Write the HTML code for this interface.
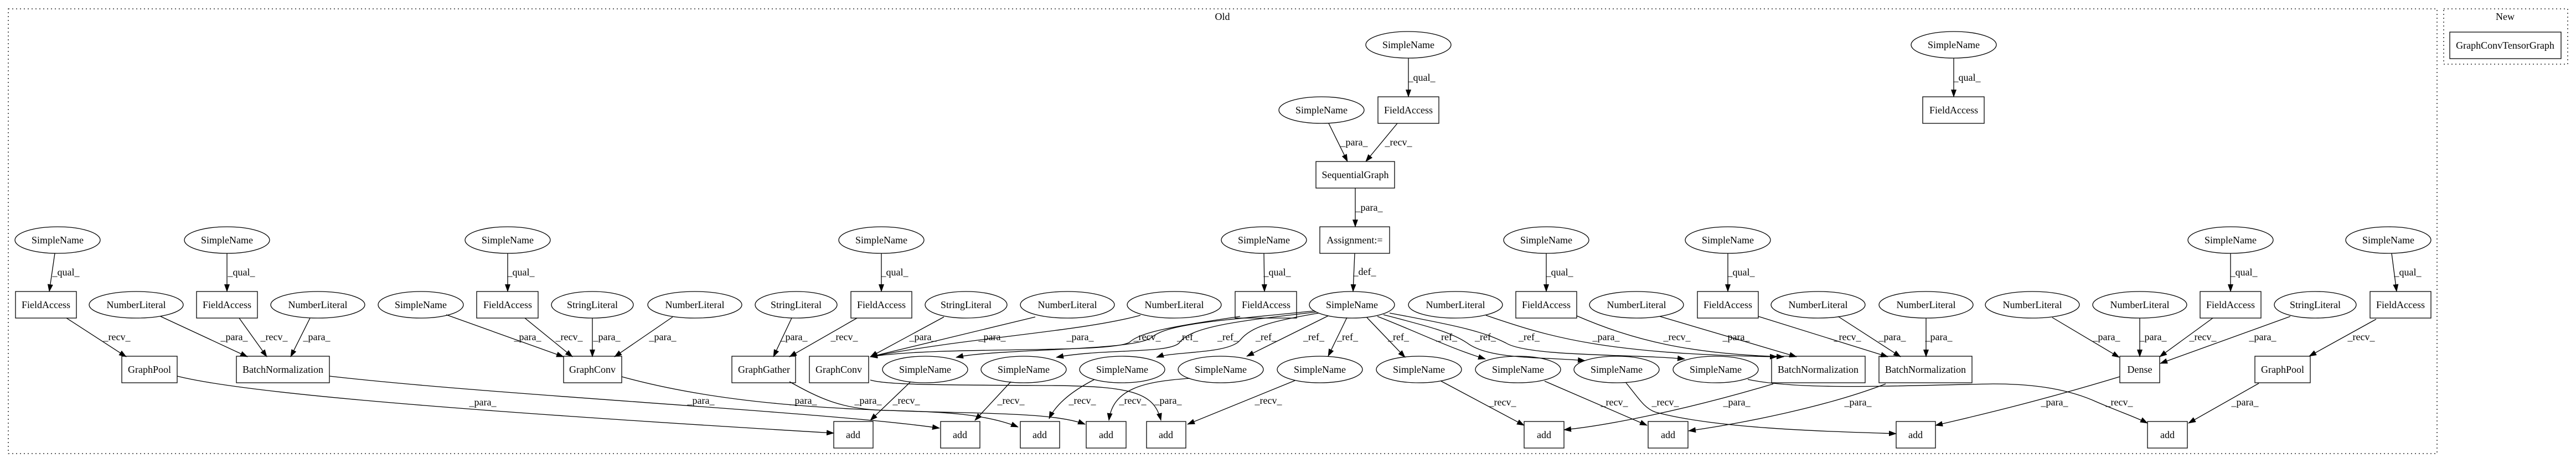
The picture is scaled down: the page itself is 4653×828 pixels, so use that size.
<!DOCTYPE html>
<html><head><meta charset="utf-8"><style>
html,body{margin:0;padding:0;background:#fff;}
svg{display:block;}
text{font-family:"Liberation Serif",serif;font-size:18px;fill:#000;}
</style></head><body>
<svg width="4653" height="828" viewBox="0 0 4653 828" xmlns="http://www.w3.org/2000/svg">
<defs>
<marker id="a" markerWidth="14" markerHeight="10" refX="13" refY="5" orient="auto" markerUnits="userSpaceOnUse">
<path d="M0,0 L14,5 L0,10 z" fill="#000"/>
</marker>
</defs>
<rect x="0" y="0" width="4653" height="828" fill="#fff"/>
<!-- clusters -->
<rect x="15" y="16" width="4387" height="804" fill="none" stroke="#000" stroke-width="1.3" stroke-dasharray="2,5"/>
<text x="2208" y="36" text-anchor="middle">Old</text>
<rect x="4414" y="16" width="224" height="100" fill="none" stroke="#000" stroke-width="1.3" stroke-dasharray="2,5"/>
<text x="4525" y="36" text-anchor="middle">New</text>
<rect x="4425" y="58" width="201" height="48" fill="none" stroke="#000" stroke-width="1.3"/>
<text x="4525" y="88" text-anchor="middle">GraphConvTensorGraph</text>

<g fill="none" stroke="#000" stroke-width="1.3">
<!-- ellipses -->
<ellipse cx="2544" cy="81" rx="77" ry="24"/>
<ellipse cx="3529" cy="81" rx="77" ry="24"/>
<ellipse cx="2387" cy="199" rx="77" ry="24"/>
<ellipse cx="104" cy="434" rx="77" ry="24"/>
<ellipse cx="410" cy="434" rx="77" ry="24"/>
<ellipse cx="917" cy="434" rx="77" ry="24"/>
<ellipse cx="1592" cy="434" rx="77" ry="24"/>
<ellipse cx="2283" cy="434" rx="77" ry="24"/>
<ellipse cx="2793" cy="434" rx="77" ry="24"/>
<ellipse cx="3121" cy="434" rx="77" ry="24"/>
<ellipse cx="4029" cy="434" rx="77" ry="24"/>
<ellipse cx="4314" cy="434" rx="77" ry="24"/>
<ellipse cx="246" cy="551" rx="85" ry="24"/>
<ellipse cx="574" cy="551" rx="85" ry="24"/>
<ellipse cx="760" cy="551" rx="77" ry="24"/>
<ellipse cx="1070" cy="551" rx="74" ry="24"/>
<ellipse cx="1255" cy="551" rx="85" ry="24"/>
<ellipse cx="1438" cy="551" rx="74" ry="24"/>
<ellipse cx="1745" cy="551" rx="74" ry="24"/>
<ellipse cx="1928" cy="551" rx="85" ry="24"/>
<ellipse cx="2121" cy="551" rx="85" ry="24"/>
<ellipse cx="2442" cy="551" rx="77" ry="24"/>
<ellipse cx="2629" cy="551" rx="85" ry="24"/>
<ellipse cx="2956" cy="551" rx="85" ry="24"/>
<ellipse cx="3284" cy="551" rx="85" ry="24"/>
<ellipse cx="3479" cy="551" rx="85" ry="24"/>
<ellipse cx="3671" cy="551" rx="85" ry="24"/>
<ellipse cx="3865" cy="551" rx="85" ry="24"/>
<ellipse cx="4182" cy="551" rx="74" ry="24"/>
<ellipse cx="1671" cy="668" rx="77" ry="24"/>
<ellipse cx="1849" cy="668" rx="77" ry="24"/>
<ellipse cx="2027" cy="668" rx="77" ry="24"/>
<ellipse cx="2205" cy="668" rx="77" ry="24"/>
<ellipse cx="2384" cy="668" rx="77" ry="24"/>
<ellipse cx="2563" cy="668" rx="77" ry="24"/>
<ellipse cx="2742" cy="668" rx="77" ry="24"/>
<ellipse cx="2920" cy="668" rx="77" ry="24"/>
<ellipse cx="3099" cy="668" rx="77" ry="24"/>
<!-- boxes -->
<rect x="2489" y="175" width="110" height="48"/>
<rect x="3473" y="175" width="111" height="48"/>
<rect x="2377" y="292" width="142" height="48"/>
<rect x="2384" y="410" width="126" height="48"/>
<rect x="28" y="527" width="110" height="48"/>
<rect x="355" y="527" width="110" height="48"/>
<rect x="861" y="527" width="111" height="48"/>
<rect x="1537" y="527" width="110" height="48"/>
<rect x="2231" y="527" width="111" height="48"/>
<rect x="2738" y="527" width="110" height="48"/>
<rect x="3066" y="527" width="110" height="48"/>
<rect x="3974" y="527" width="110" height="48"/>
<rect x="4281" y="527" width="110" height="48"/>
<rect x="220" y="644" width="100" height="48"/>
<rect x="427" y="644" width="168" height="48"/>
<rect x="1018" y="644" width="105" height="48"/>
<rect x="1322" y="644" width="115" height="48"/>
<rect x="1462" y="644" width="107" height="48"/>
<rect x="3200" y="644" width="169" height="48"/>
<rect x="3394" y="644" width="168" height="48"/>
<rect x="3829" y="644" width="72" height="48"/>
<rect x="4073" y="644" width="100" height="48"/>
<rect x="1506" y="762" width="71" height="48"/>
<rect x="1699" y="762" width="71" height="48"/>
<rect x="1843" y="762" width="71" height="48"/>
<rect x="1962" y="762" width="72" height="48"/>
<rect x="2071" y="762" width="71" height="48"/>
<rect x="2753" y="762" width="72" height="48"/>
<rect x="2977" y="762" width="72" height="48"/>
<rect x="3425" y="762" width="71" height="48"/>
<rect x="3879" y="762" width="72" height="48"/>
</g>

<!-- edges -->
<g fill="none" stroke="#000" stroke-width="1.3" marker-end="url(#a)">
<path d="M2544,105 L2544,175"/>
<path d="M3529,105 L3529,175"/>
<path d="M2400,223 L2434,292"/>
<path d="M2524,223 L2467,292"/>
<path d="M2448,340 L2448,410"/>
<path d="M2447,458 L2444,527"/>
<path d="M99,458 L89,527"/>
<path d="M120,575 L228,645"/>
<path d="M290,572 L447,645"/>
<path d="M410,458 L410,527"/>
<path d="M432,575 L482,645"/>
<path d="M560,575 L525,645"/>
<path d="M806,569 L1018,645"/>
<path d="M917,458 L917,527"/>
<path d="M948,575 L1034,645"/>
<path d="M1070,575 L1070,645"/>
<path d="M1215,573 L1110,645"/>
<path d="M1430,575 L1397,645"/>
<path d="M1548,575 L1426,645"/>
<path d="M1592,458 L1592,527"/>
<path d="M2283,458 L2284,527"/>
<path d="M1705,573 L1572,645"/>
<path d="M1870,573 L1572,645"/>
<path d="M2060,570 C1950,600 1750,610 1572,645"/>
<path d="M2240,572 C2120,590 2060,600 2040,619 C2000,640 1700,625 1572,645"/>
<path d="M320,680 C420,705 700,735 1506,783"/>
<path d="M595,680 C900,715 1500,745 1697,774"/>
<path d="M1123,681 C1300,730 1500,740 1700,745 C1850,748 1920,752 1960,767"/>
<path d="M1426,690 C1480,720 1520,740 1600,742 C1700,744 1780,748 1839,772"/>
<path d="M1572,687 C1600,696 1700,696 1900,697 C2050,698 2085,712 2097,760"/>
<path d="M1645,690 L1572,760"/>
<path d="M1826,690 L1761,760"/>
<path d="M1977,686 C1930,710 1905,735 1895,757"/>
<path d="M2149,684 C2060,690 2010,705 2003,760"/>
<path d="M2339,688 L2145,767"/>
<path d="M2375,562 C2200,580 2110,585 2080,610 C2050,635 1800,630 1727,646"/>
<path d="M2378,564 C2240,580 2150,590 2130,620 C2110,640 1990,630 1908,646"/>
<path d="M2382,566 C2300,580 2260,590 2240,615 C2220,640 2120,635 2089,646"/>
<path d="M2399,571 L2252,644"/>
<path d="M2433,574 L2399,644"/>
<path d="M2469,574 L2538,646"/>
<path d="M2488,572 C2560,600 2620,630 2683,649"/>
<path d="M2499,569 C2580,590 2620,600 2650,620 C2690,650 2780,645 2863,652"/>
<path d="M2510,566 C2640,590 2680,600 2720,620 C2760,645 2950,640 3043,649"/>
<path d="M2684,570 C2800,610 2900,640 3210,645"/>
<path d="M2848,571 C2950,615 3050,640 3222,645"/>
<path d="M2998,572 L3245,645"/>
<path d="M2793,458 L2793,527"/>
<path d="M3121,458 L3121,527"/>
<path d="M3176,572 L3410,645"/>
<path d="M3320,572 L3433,645"/>
<path d="M3479,575 L3479,645"/>
<path d="M2603,689 L2753,769"/>
<path d="M2790,689 L2975,769"/>
<path d="M2937,692 C2960,720 2970,738 2990,745 C3100,775 3300,780 3425,784"/>
<path d="M3203,694 C3050,740 2900,770 2825,777"/>
<path d="M3406,694 C3300,735 3150,765 3050,779"/>
<path d="M3157,686 C3250,705 3400,698 3600,694 C3680,694 3740,705 3788,727 C3830,745 3860,755 3879,765"/>
<path d="M3829,681 C3700,720 3600,745 3496,769"/>
<path d="M3707,574 L3828,646"/>
<path d="M3865,575 L3865,645"/>
<path d="M3997,575 L3901,645"/>
<path d="M4137,572 L3902,657"/>
<path d="M4029,458 L4029,527"/>
<path d="M4320,458 L4329,527"/>
<path d="M4292,577 L4171,644"/>
<path d="M4080,693 L3953,765"/>
</g>

<!-- node labels -->
<g text-anchor="middle">
<text x="2544" y="87">SimpleName</text>
<text x="3529" y="87">SimpleName</text>
<text x="2387" y="205">SimpleName</text>
<text x="2544" y="205">FieldAccess</text>
<text x="3529" y="205">FieldAccess</text>
<text x="2448" y="322">SequentialGraph</text>
<text x="2447" y="440">Assignment:=</text>
<text x="104" y="440">SimpleName</text>
<text x="410" y="440">SimpleName</text>
<text x="917" y="440">SimpleName</text>
<text x="1592" y="440">SimpleName</text>
<text x="2283" y="440">SimpleName</text>
<text x="2793" y="440">SimpleName</text>
<text x="3121" y="440">SimpleName</text>
<text x="4029" y="440">SimpleName</text>
<text x="4314" y="440">SimpleName</text>
<text x="83" y="557">FieldAccess</text>
<text x="246" y="557">NumberLiteral</text>
<text x="410" y="557">FieldAccess</text>
<text x="574" y="557">NumberLiteral</text>
<text x="760" y="557">SimpleName</text>
<text x="917" y="557">FieldAccess</text>
<text x="1070" y="557">StringLiteral</text>
<text x="1255" y="557">NumberLiteral</text>
<text x="1438" y="557">StringLiteral</text>
<text x="1592" y="557">FieldAccess</text>
<text x="1745" y="557">StringLiteral</text>
<text x="1928" y="557">NumberLiteral</text>
<text x="2121" y="557">NumberLiteral</text>
<text x="2287" y="557">FieldAccess</text>
<text x="2442" y="557">SimpleName</text>
<text x="2629" y="557">NumberLiteral</text>
<text x="2793" y="557">FieldAccess</text>
<text x="2956" y="557">NumberLiteral</text>
<text x="3121" y="557">FieldAccess</text>
<text x="3284" y="557">NumberLiteral</text>
<text x="3479" y="557">NumberLiteral</text>
<text x="3671" y="557">NumberLiteral</text>
<text x="3865" y="557">NumberLiteral</text>
<text x="4029" y="557">FieldAccess</text>
<text x="4182" y="557">StringLiteral</text>
<text x="4336" y="557">FieldAccess</text>
<text x="270" y="674">GraphPool</text>
<text x="511" y="674">BatchNormalization</text>
<text x="1070" y="674">GraphConv</text>
<text x="1380" y="674">GraphGather</text>
<text x="1515" y="674">GraphConv</text>
<text x="1671" y="674">SimpleName</text>
<text x="1849" y="674">SimpleName</text>
<text x="2027" y="674">SimpleName</text>
<text x="2205" y="674">SimpleName</text>
<text x="2384" y="674">SimpleName</text>
<text x="2563" y="674">SimpleName</text>
<text x="2742" y="674">SimpleName</text>
<text x="2920" y="674">SimpleName</text>
<text x="3099" y="674">SimpleName</text>
<text x="3284" y="674">BatchNormalization</text>
<text x="3478" y="674">BatchNormalization</text>
<text x="3865" y="674">Dense</text>
<text x="4123" y="674">GraphPool</text>
<text x="1541" y="792">add</text>
<text x="1734" y="792">add</text>
<text x="1878" y="792">add</text>
<text x="1998" y="792">add</text>
<text x="2106" y="792">add</text>
<text x="2789" y="792">add</text>
<text x="3013" y="792">add</text>
<text x="3460" y="792">add</text>
<text x="3915" y="792">add</text>
</g>

<!-- edge labels -->
<g text-anchor="middle">
<text x="2568" y="146">_qual_</text>
<text x="3553" y="146">_qual_</text>
<text x="2446" y="263">_para_</text>
<text x="2526" y="263">_recv_</text>
<text x="2473" y="381">_para_</text>
<text x="2465" y="497">_def_</text>
<text x="119" y="498">_qual_</text>
<text x="436" y="498">_qual_</text>
<text x="941" y="498">_qual_</text>
<text x="1616" y="498">_qual_</text>
<text x="2307" y="498">_qual_</text>
<text x="2817" y="498">_qual_</text>
<text x="3145" y="498">_qual_</text>
<text x="4053" y="498">_qual_</text>
<text x="4349" y="498">_qual_</text>
<text x="211" y="615">_recv_</text>
<text x="423" y="615">_para_</text>
<text x="495" y="615">_recv_</text>
<text x="572" y="615">_para_</text>
<text x="953" y="615">_para_</text>
<text x="1028" y="615">_recv_</text>
<text x="1096" y="615">_para_</text>
<text x="1197" y="615">_para_</text>
<text x="1434" y="615">_para_</text>
<text x="1525" y="615">_recv_</text>
<text x="1667" y="615">_para_</text>
<text x="1792" y="615">_para_</text>
<text x="1951" y="615">_para_</text>
<text x="2072" y="615">_recv_</text>
<text x="2145" y="615">_ref_</text>
<text x="2218" y="615">_ref_</text>
<text x="2287" y="615">_ref_</text>
<text x="2373" y="615">_ref_</text>
<text x="2434" y="615">_ref_</text>
<text x="2526" y="615">_ref_</text>
<text x="2613" y="615">_ref_</text>
<text x="2683" y="615">_ref_</text>
<text x="2762" y="615">_ref_</text>
<text x="2901" y="615">_para_</text>
<text x="3029" y="615">_recv_</text>
<text x="3136" y="615">_para_</text>
<text x="3337" y="615">_recv_</text>
<text x="3418" y="615">_para_</text>
<text x="3502" y="615">_para_</text>
<text x="3805" y="615">_para_</text>
<text x="3889" y="615">_para_</text>
<text x="3979" y="615">_recv_</text>
<text x="4087" y="615">_para_</text>
<text x="4265" y="615">_recv_</text>
<text x="872" y="733">_para_</text>
<text x="1266" y="730">_para_</text>
<text x="1451" y="730">_para_</text>
<text x="1568" y="730">_para_</text>
<text x="1637" y="730">_recv_</text>
<text x="1826" y="730">_recv_</text>
<text x="1955" y="730">_recv_</text>
<text x="2046" y="730">_recv_</text>
<text x="2110" y="730">_para_</text>
<text x="2291" y="730">_recv_</text>
<text x="2714" y="733">_recv_</text>
<text x="2916" y="733">_recv_</text>
<text x="3008" y="733">_recv_</text>
<text x="3137" y="733">_para_</text>
<text x="3356" y="733">_para_</text>
<text x="3711" y="733">_para_</text>
<text x="3828" y="733">_recv_</text>
<text x="4055" y="733">_para_</text>
</g>
</svg>
</body></html>
